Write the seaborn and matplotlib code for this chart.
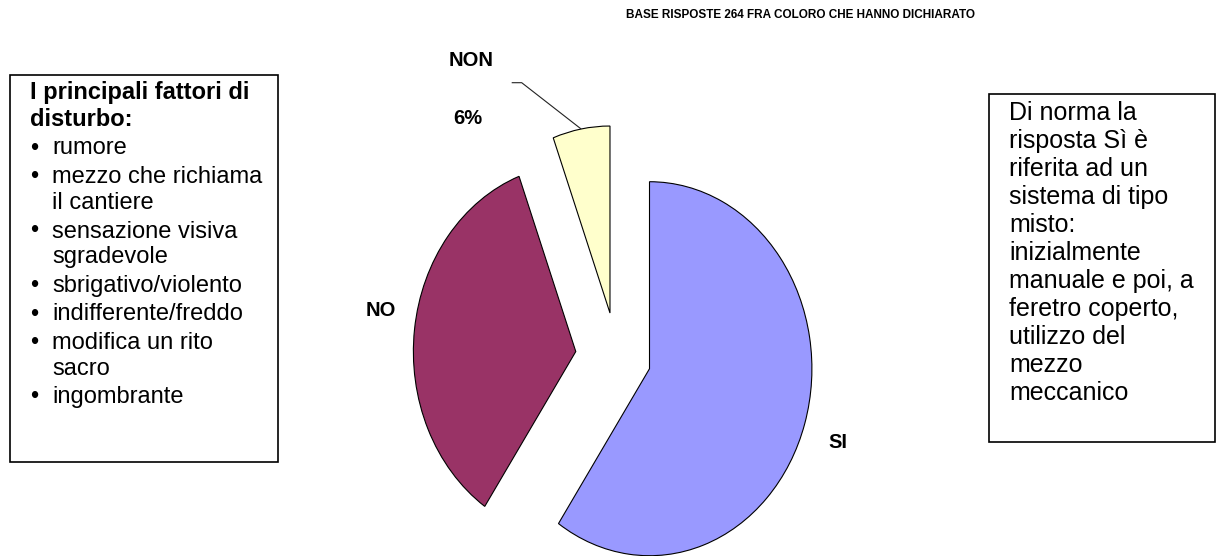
import numpy as np
import matplotlib
matplotlib.use("Agg")
import matplotlib.pyplot as plt
import matplotlib.transforms as mtransforms
from matplotlib.patches import Rectangle
import seaborn as sns

# ---- data -------------------------------------------------------------
categories = ["SI", "NO", "NON"]
responses = [157, 92, 15]
slice_colors = ["#9999FF", "#993366", "#FFFFCC"]

header = "BASE RISPOSTE 264 FRA COLORO CHE HANNO DICHIARATO"
left_title = ["I principali fattori di", "disturbo:"]
left_items = [
    ["rumore"],
    ["mezzo che richiama", "il cantiere"],
    ["sensazione visiva", "sgradevole"],
    ["sbrigativo/violento"],
    ["indifferente/freddo"],
    ["modifica un rito", "sacro"],
    ["ingombrante"],
]
right_lines = [
    "Di norma la", "risposta Sì è", "riferita ad un", "sistema di tipo",
    "misto:", "inizialmente", "manuale e poi, a", "feretro coperto,",
    "utilizzo del", "mezzo", "meccanico",
]

# ---- style ------------------------------------------------------------
sns.set_theme(style="white")
plt.rcParams["font.family"] = ["Liberation Sans", "DejaVu Sans"]
plt.rcParams["text.color"] = "black"

W, H = 1217, 556
fig = plt.figure(figsize=(W / 100, H / 100), dpi=100)
fig.patch.set_facecolor("white")
# pixel coordinates with the origin at the top-left corner
px = mtransforms.Affine2D().scale(1 / W, -1 / H).translate(0, 1) + fig.transFigure

# ---- pie --------------------------------------------------------------
ax = fig.add_axes([0, 0, 1, 1])
palette = sns.color_palette(slice_colors)
wedges, _ = ax.pie(
    responses,
    colors=palette,
    explode=[0.21, 0.255, 0.24],
    startangle=90,
    counterclock=False,
    radius=1.0,
    wedgeprops=dict(edgecolor="black", linewidth=0.8),
)
cx, cy, sx, sy = 616.9, 357.2, 162.4, 187.0
ax.set_aspect("auto")
ax.set_xlim(-cx / sx, (W - cx) / sx)
ax.set_ylim(-(H - cy) / sy, cy / sy)
ax.axis("off")

lab_kw = dict(transform=px, fontweight="bold", fontsize=14.5,
              ha="center", va="center", color="black")
ax.text(838, 443, categories[0], **lab_kw)
ax.text(381, 310, categories[1], **lab_kw)
ax.text(471, 61, categories[2], **lab_kw)
pct = 100 * responses[2] / sum(responses)
ax.text(468, 118, f"{pct:.0f}%", **lab_kw)

# leader line from the NON label to the middle of its slice's outer arc
w = wedges[2]
mid = np.deg2rad((w.theta1 + w.theta2) / 2)
arc_pt = (w.center[0] + w.r * np.cos(mid), w.center[1] + w.r * np.sin(mid))
to_data = px + ax.transData.inverted()
p0 = to_data.transform((511.7, 82.7))
p1 = to_data.transform((521.7, 82.7))
ax.plot([p0[0], p1[0], arc_pt[0]], [p0[1], p1[1], arc_pt[1]],
        color="#222222", lw=0.8, solid_capstyle="butt")

# ---- header -----------------------------------------------------------
fig.text(626, 15, header, transform=px, fontweight="bold", fontsize=8.45,
         ha="left", va="center", color="black")

# ---- left text box ----------------------------------------------------
fig.add_artist(Rectangle((10, 75), 268, 387, transform=px, fill=False,
                         edgecolor="black", linewidth=1.2))
y = 93
for line in left_title:
    fig.text(30, y, line, transform=px, fontsize=17, fontweight="bold",
             ha="left", va="center", color="black")
    y += 27
y += 1.5
for item in left_items:
    fig.text(34, y, "•", transform=px, fontsize=17, ha="center", va="center",
             color="black")
    for j, line in enumerate(item):
        fig.text(52, y, line, transform=px, fontsize=17, ha="left",
                 va="center", color="black")
        if j < len(item) - 1:
            y += 26
    y += 28.5

# ---- right text box ---------------------------------------------------
fig.add_artist(Rectangle((989, 94), 226, 348, transform=px, fill=False,
                         edgecolor="black", linewidth=1.2))
for k, line in enumerate(right_lines):
    fig.text(1009, 113 + 28 * k, line, transform=px, fontsize=18,
             ha="left", va="center", color="black")

fig.savefig("out.png", dpi=100, facecolor="white")
